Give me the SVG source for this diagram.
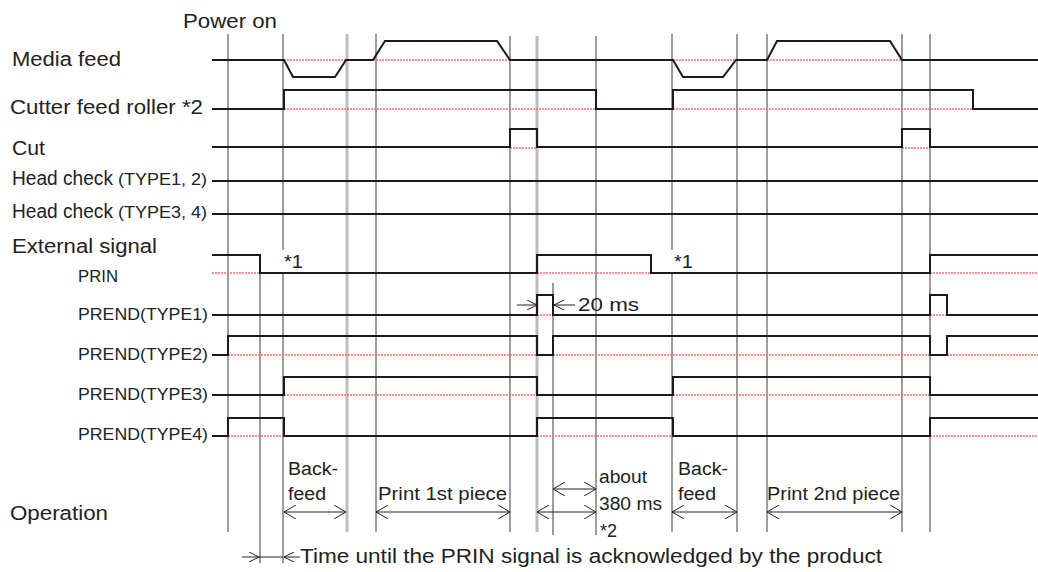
<svg xmlns="http://www.w3.org/2000/svg" width="1038" height="572" viewBox="0 0 1038 572">
<style>
text{font-family:"Liberation Sans",Arial,sans-serif;fill:#222;}
.lg{font-size:20px;}
.md{font-size:18px;}
.sm{font-size:16px;}
.sig{stroke:#1a1a1a;stroke-width:2;fill:none;}
.ref{stroke:#ff6b6b;stroke-width:1.5;stroke-dasharray:2 1;fill:none;}
.vl{stroke:#3a3a3a;stroke-width:1;fill:none;}
.vg{stroke:#bdbdbd;stroke-width:3;fill:none;}
.dim{stroke:#222;stroke-width:1;fill:none;}
</style>
<defs>
<marker id="ah" viewBox="0 0 12 14" refX="12" refY="7" markerWidth="12" markerHeight="14" markerUnits="userSpaceOnUse" orient="auto-start-reverse">
<path d="M0,0 L12,7 L0,14" fill="none" stroke="#222" stroke-width="1"/>
</marker>
<marker id="ahs" viewBox="0 0 10 10" refX="10" refY="5" markerWidth="10" markerHeight="10" markerUnits="userSpaceOnUse" orient="auto-start-reverse">
<path d="M0,0 L10,5 L0,10" fill="none" stroke="#222" stroke-width="1"/>
</marker>
</defs>
<rect width="1038" height="572" fill="#fff"/>

<g id="connectors">
<path class="vl" d="M228,34 V532 M260,255 V563 M283,34 V250 M283,273 V563 M376,34 V532 M510,36 V532 M553,283 V535 M596,36 V535 M672,34 V250 M672,273 V532 M737,34 V532 M767,34 V532 M902,34 V532 M930,34 V532"/>
<path class="vg" d="M347,34 V532 M537,36 V532"/>
<g id="dimensions">
<line class="dim" x1="284" y1="512" x2="346" y2="512" marker-start="url(#ah)" marker-end="url(#ah)"/>
<line class="dim" x1="376" y1="512" x2="510" y2="512" marker-start="url(#ah)" marker-end="url(#ah)"/>
<line class="dim" x1="537" y1="512" x2="596" y2="512" marker-start="url(#ah)" marker-end="url(#ah)"/>
<line class="dim" x1="553" y1="489" x2="596" y2="489" marker-start="url(#ah)" marker-end="url(#ah)"/>
<line class="dim" x1="672" y1="512" x2="737" y2="512" marker-start="url(#ah)" marker-end="url(#ah)"/>
<line class="dim" x1="767" y1="512" x2="902" y2="512" marker-start="url(#ah)" marker-end="url(#ah)"/>
<line class="dim" x1="517" y1="305" x2="537" y2="305" marker-end="url(#ahs)"/>
<line class="dim" x1="575" y1="305" x2="554" y2="305" marker-end="url(#ahs)"/>
<line class="dim" x1="242" y1="557" x2="259" y2="557" marker-end="url(#ahs)"/>
<line class="dim" x1="259" y1="557" x2="283" y2="557"/>
<line class="dim" x1="300" y1="557" x2="284" y2="557" marker-end="url(#ahs)"/>
</g>
</g>

<text class="lg" x="183" y="28" textLength="94" lengthAdjust="spacingAndGlyphs">Power on</text>

<g id="media-feed">
<text class="lg" x="12" y="66" textLength="109" lengthAdjust="spacingAndGlyphs">Media feed</text>
<path class="ref" d="M284,60 H346 M373,60 H510 M673,60 H736 M767,60 H902"/>
<path class="sig" d="M212,60 H284 L293,77 H335 L346,60 H373 L385,41 H497 L510,60 H673 L683,77 H723 L736,60 H767 L777,41 H890 L902,60 H1038"/>
</g>

<g id="cutter-feed-roller">
<text class="lg" x="10" y="114" textLength="193" lengthAdjust="spacingAndGlyphs">Cutter feed roller *2</text>
<path class="ref" d="M284,109 H596 M673,109 H973"/>
<path class="sig" d="M212,109 H284 V90 H596 V109 H673 V90 H973 V109 H1038"/>
</g>

<g id="cut">
<text class="lg" x="12" y="155" textLength="33" lengthAdjust="spacingAndGlyphs">Cut</text>
<path class="ref" d="M510,148 H537 M902,148 H930"/>
<path class="sig" d="M212,147 H510 V129 H537 V147 H902 V129 H930 V147 H1038"/>
</g>

<g id="head-check-12">
<text class="lg" x="12" y="185" textLength="101" lengthAdjust="spacingAndGlyphs">Head check</text>
<text class="sm" x="118" y="185" textLength="89" lengthAdjust="spacingAndGlyphs">(TYPE1, 2)</text>
<path class="sig" d="M212,181 H1038"/>
</g>

<g id="head-check-34">
<text class="lg" x="12" y="218" textLength="101" lengthAdjust="spacingAndGlyphs">Head check</text>
<text class="sm" x="118" y="218" textLength="89" lengthAdjust="spacingAndGlyphs">(TYPE3, 4)</text>
<path class="sig" d="M212,214 H1038"/>
</g>

<g id="prin">
<text class="lg" x="12" y="253" textLength="145" lengthAdjust="spacingAndGlyphs">External signal</text>
<text class="sm" x="78" y="282" textLength="40" lengthAdjust="spacingAndGlyphs">PRIN</text>
<path class="ref" d="M212,273 H260 M537,273 H651 M930,273 H1038"/>
<path class="sig" d="M212,255 H260 V273 H537 V255 H651 V273 H930 V255 H1038"/>
<text class="md" x="284" y="268" textLength="19" lengthAdjust="spacingAndGlyphs">*1</text>
<text class="md" x="674" y="268" textLength="19" lengthAdjust="spacingAndGlyphs">*1</text>
</g>

<g id="prend-type1">
<text class="sm" x="78" y="320" textLength="130" lengthAdjust="spacingAndGlyphs">PREND(TYPE1)</text>
<path class="ref" d="M537,315 H553 M930,315 H947"/>
<path class="sig" d="M212,315 H537 V295 H553 V315 H930 V295 H947 V315 H1038"/>
<text class="md" x="578" y="311" textLength="61" lengthAdjust="spacingAndGlyphs">20 ms</text>
</g>

<g id="prend-type2">
<text class="sm" x="78" y="360" textLength="130" lengthAdjust="spacingAndGlyphs">PREND(TYPE2)</text>
<path class="ref" d="M228,355 H537 M553,355 H930 M947,355 H1038"/>
<path class="sig" d="M212,355 H228 V336 H537 V355 H553 V336 H930 V355 H947 V336 H1038"/>
</g>

<g id="prend-type3">
<text class="sm" x="78" y="400" textLength="130" lengthAdjust="spacingAndGlyphs">PREND(TYPE3)</text>
<path class="ref" d="M284,395 H537 M673,395 H930"/>
<path class="sig" d="M212,395 H284 V377 H537 V395 H673 V377 H930 V395 H1038"/>
</g>

<g id="prend-type4">
<text class="sm" x="78" y="440" textLength="130" lengthAdjust="spacingAndGlyphs">PREND(TYPE4)</text>
<path class="ref" d="M228,436 H284 M537,436 H673 M930,436 H1038"/>
<path class="sig" d="M212,436 H228 V418 H284 V436 H537 V418 H673 V436 H930 V418 H1038"/>
</g>

<g id="operation">
<text class="lg" x="10" y="520" textLength="98" lengthAdjust="spacingAndGlyphs">Operation</text>
<text class="md" x="288" y="475" textLength="50" lengthAdjust="spacingAndGlyphs">Back-</text>
<text class="md" x="288" y="500" textLength="38" lengthAdjust="spacingAndGlyphs">feed</text>
<text class="md" x="378" y="500" textLength="129" lengthAdjust="spacingAndGlyphs">Print 1st piece</text>
<text class="md" x="599" y="483" textLength="48" lengthAdjust="spacingAndGlyphs">about</text>
<text class="md" x="599" y="510" textLength="63" lengthAdjust="spacingAndGlyphs">380 ms</text>
<text class="md" x="600" y="537" textLength="17" lengthAdjust="spacingAndGlyphs">*2</text>
<text class="md" x="678" y="475" textLength="50" lengthAdjust="spacingAndGlyphs">Back-</text>
<text class="md" x="678" y="500" textLength="38" lengthAdjust="spacingAndGlyphs">feed</text>
<text class="md" x="767" y="500" textLength="133" lengthAdjust="spacingAndGlyphs">Print 2nd piece</text>
<text class="lg" x="300" y="563" textLength="582" lengthAdjust="spacingAndGlyphs">Time until the PRIN signal is acknowledged by the product</text>
</g>
</svg>
